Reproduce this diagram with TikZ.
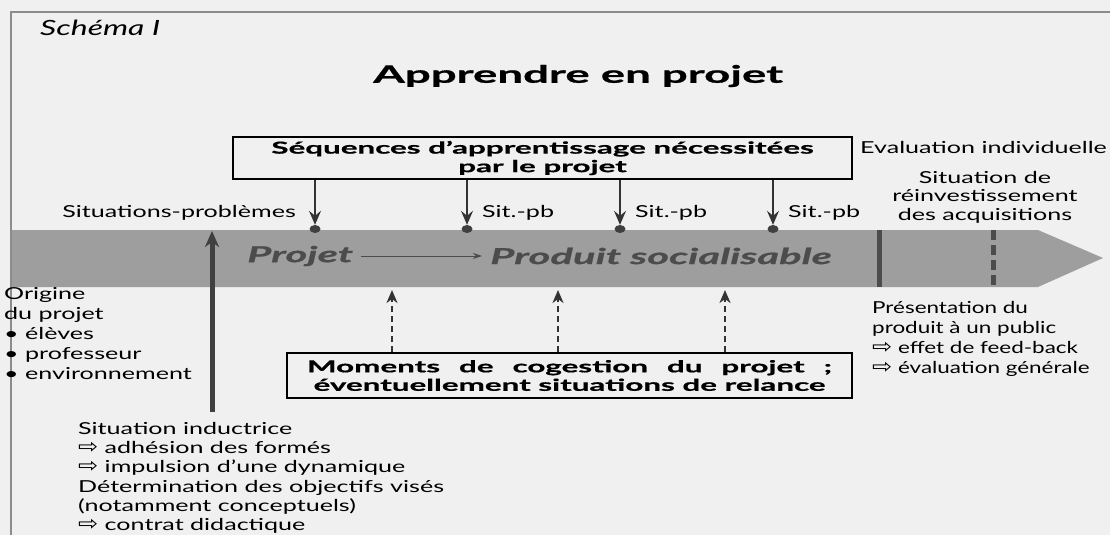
\documentclass[tikz,border=0pt]{standalone}
\usepackage{fontspec}
\setmainfont{Lato}[FakeStretch=1.52,
  BoldFeatures={FakeStretch=1.9, FakeBold=0.8},
  BoldItalicFeatures={FakeStretch=1.9, FakeBold=0.8}]
\newfontfamily\arrfont{DejaVu Sans}[FakeStretch=1.2]
\usetikzlibrary{arrows.meta}
\usetikzlibrary{shapes}

\newcommand{\fleche}{{\arrfont\fontsize{20}{18}\selectfont ⇨}}

\tikzset{
  lbl/.style={inner sep=0pt, font=\fontsize{16.5}{20}\selectfont},
  boxtxt/.style={draw, line width=1.2pt, inner sep=0pt, font=\fontsize{16.5}{18.5}\bfseries\selectfont},
  sitdot/.style={ellipse, fill=black!75, minimum width=11pt, minimum height=8pt, inner sep=0pt},
  downarr/.style={line width=1.3pt, black!80, -{Stealth[length=14pt,width=12pt,inset=5pt]}},
  uparr/.style={line width=2.2pt, black!80, dash pattern=on 6pt off 4pt, -{Stealth[length=13pt,width=11pt,inset=4pt]}},
  bigarr/.style={line width=5pt, black!75, -{Stealth[length=16pt,width=14pt,inset=5pt]}},
  bandtxt/.style={inner sep=0pt, text=black!70, font=\fontsize{22}{24}\bfseries\itshape}
}

\begin{document}
\begin{tikzpicture}[x=1pt, y=-1pt]
    \useasboundingbox (0, 0) rectangle (1110, 535);
    \fill[black!6] (0, 0) rectangle (1110, 535);
    \draw[black!45, line width=1.5pt] (11, 535) -- (11, 12) -- (1110, 12);

    % titles
    \node[anchor=west, inner sep=0pt, font=\fontsize{21}{24}\itshape] (schema) at (40, 28) {Schéma I};
    \node[anchor=west, inner sep=0pt, font=\fontsize{24}{28}\bfseries] (titre) at (373, 76) {Apprendre en projet};

    % the band
    \fill[black!38] (12, 230) -- (1038, 230) -- (1103, 258) -- (1038, 287) -- (12, 287) -- cycle;
    \draw[black!70, line width=5pt] (879, 230) -- (879, 287);
    \draw[black!70, line width=5pt, dash pattern=on 10pt off 5pt] (993, 230) -- (993, 287);

    \node[bandtxt, anchor=west] (projet) at (247, 256) {Projet};
    \node[bandtxt, anchor=west] (produit) at (490, 256) {Produit socialisable};
    \draw[black!70, line width=1pt, -{Stealth[length=9pt,width=6pt]}] ([xshift=8pt]projet.east) -- ([xshift=-8pt]produit.west);

    % sequences
    \node[boxtxt, minimum width=619pt, minimum height=42pt, align=center] (seq) at (542.5, 158)
        {Séquences d’apprentissage nécessitées\\par le projet};

    \node[sitdot] (d1) at (315, 229) {};
    \node[sitdot] (d2) at (467, 229) {};
    \node[sitdot] (d3) at (620, 229) {};
    \node[sitdot] (d4) at (773, 229) {};
    \foreach \d in {d1, d2, d3, d4}
        \draw[downarr] (\d |- seq.south) -- (\d.north);

    \node[lbl, anchor=east] (sitpb) at (296, 213) {Situations-problèmes};
    \node[lbl, anchor=west] (s2) at (482, 213) {Sit.-pb};
    \node[lbl, anchor=west] (s3) at (635, 213) {Sit.-pb};
    \node[lbl, anchor=west] (s4) at (788, 213) {Sit.-pb};

    \node[lbl, anchor=west] (evalind) at (860, 147) {Evaluation individuelle};
    \node[lbl, align=center, font=\fontsize{16.5}{18.5}\selectfont] (reinv) at (985, 197)
        {Situation de\\réinvestissement\\des acquisitions};

    % moments de cogestion
    \node[boxtxt, minimum width=565pt, minimum height=45pt, align=center] (moments) at (569.5, 375.5)
        {\makebox[525pt][s]{Moments de cogestion du projet ;}\\éventuellement situations de relance};
    \coordinate (u1) at (392, 290);
    \coordinate (u2) at (558, 290);
    \coordinate (u3) at (725, 290);
    \foreach \u in {u1, u2, u3}
        \draw[uparr] (\u |- moments.north) -- (\u);

    % origine and situation inductrice
    \coordinate (indbot) at (212, 412);
    \coordinate (indtop) at (212, 231);
    \draw[bigarr] (indbot) -- (indtop);

    \node[lbl, anchor=north west, align=left] (origine) at (4, 287)
        {Origine\\du projet\\• élèves\\• professeur\\• environnement};
    \node[lbl, anchor=north west, align=left, font=\fontsize{16.5}{19.3}\selectfont] (inductrice) at (78, 422)
        {Situation inductrice\\\fleche{} adhésion des formés\\\fleche{} impulsion d’une dynamique\\
         Détermination des objectifs visés\\(notamment conceptuels)\\\fleche{} contrat didactique};

    % presentation
    \node[lbl, anchor=north west, align=left, font=\fontsize{16.5}{20}\selectfont\addfontfeatures{FakeStretch=1.36}] (presentation) at (872, 301)
        {Présentation du\\produit à un public\\\fleche{} effet de feed-back\\\fleche{} évaluation générale};
\end{tikzpicture}
\end{document}
